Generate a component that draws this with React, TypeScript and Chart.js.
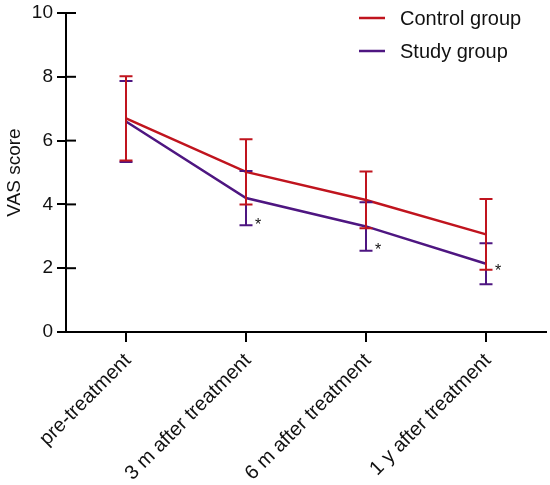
import React, { useEffect, useRef } from "react";
import { Chart, registerables } from "chart.js";

Chart.register(...registerables);

const categories = ["pre-treatment", "3 m after treatment", "6 m after treatment", "1 y after treatment"];
const controlMean = [6.7, 5.02, 4.14, 3.06];
const controlSD = [1.32, 1.02, 0.89, 1.11];
const studyMean = [6.6, 4.2, 3.31, 2.14];
const studySD = [1.27, 0.85, 0.76, 0.64];
const sigMarkY: (number | null)[] = [null, 3.49, 2.71, 2.04];
const seriesNames = ["Control group", "Study group"];

const RED = "#C0141E";
const PURPLE = "#4E1681";
const FONT = "'Liberation Sans', Arial, Helvetica, sans-serif";

const errorBarPlugin = {
  id: "errorBars",
  afterDatasetsDraw(chart: any) {
    const { ctx, scales, chartArea } = chart;
    const xs = scales.x;
    const ys = scales.y;
    ctx.save();
    // inner half of the y-axis ticks (ticks cross the axis)
    ctx.strokeStyle = "#000";
    ctx.lineWidth = 2;
    ys.ticks.forEach((t: any) => {
      if (t.value === 0) return;
      const y = ys.getPixelForValue(t.value);
      ctx.beginPath();
      ctx.moveTo(chartArea.left, y);
      ctx.lineTo(chartArea.left + 10, y);
      ctx.stroke();
    });
    const sets = [
      { mean: studyMean, sd: studySD, color: PURPLE },
      { mean: controlMean, sd: controlSD, color: RED },
    ];
    ctx.lineCap = "butt";
    for (const s of sets) {
      ctx.strokeStyle = s.color;
      ctx.lineWidth = 2;
      s.mean.forEach((m, i) => {
        const x = xs.getPixelForValue(i);
        const yTop = ys.getPixelForValue(m + s.sd[i]);
        const yBot = ys.getPixelForValue(m - s.sd[i]);
        ctx.beginPath();
        ctx.moveTo(x, yTop);
        ctx.lineTo(x, yBot);
        ctx.moveTo(x - 6.5, yTop);
        ctx.lineTo(x + 6.5, yTop);
        ctx.moveTo(x - 6.5, yBot);
        ctx.lineTo(x + 6.5, yBot);
        ctx.stroke();
      });
    }
    // significance asterisks
    ctx.fillStyle = "#111";
    ctx.font = `16px ${FONT}`;
    ctx.textAlign = "center";
    ctx.textBaseline = "alphabetic";
    sigMarkY.forEach((v, i) => {
      if (v === null) return;
      const x = xs.getPixelForValue(i) + 12;
      const y = ys.getPixelForValue(v) + 9.5;
      ctx.fillText("*", x, y);
    });
    // legend
    const colors = [RED, PURPLE];
    const lx = chartArea.right - 187;
    const ly0 = chartArea.top + 5;
    seriesNames.forEach((name, i) => {
      const y = ly0 + i * 33;
      ctx.strokeStyle = colors[i];
      ctx.lineWidth = 2.5;
      ctx.beginPath();
      ctx.moveTo(lx, y);
      ctx.lineTo(lx + 26, y);
      ctx.stroke();
      ctx.fillStyle = "#111";
      ctx.font = `20px ${FONT}`;
      ctx.textAlign = "left";
      ctx.textBaseline = "middle";
      ctx.fillText(name, lx + 41, y + 1);
    });
    ctx.restore();
  },
};

export default function App() {
  const canvasRef = useRef<HTMLCanvasElement | null>(null);

  useEffect(() => {
    if (!canvasRef.current) return;
    Chart.defaults.font.family = FONT;
    const chart = new Chart(canvasRef.current, {
      type: "line",
      data: {
        labels: categories,
        datasets: [
          {
            label: seriesNames[0],
            data: controlMean,
            borderColor: RED,
            backgroundColor: RED,
            borderWidth: 2.5,
            pointRadius: 0,
            tension: 0,
          },
          {
            label: seriesNames[1],
            data: studyMean,
            borderColor: PURPLE,
            backgroundColor: PURPLE,
            borderWidth: 2.5,
            pointRadius: 0,
            tension: 0,
          },
        ],
      },
      options: {
        animation: false,
        responsive: true,
        maintainAspectRatio: false,
        layout: { padding: { top: 13, right: 4, left: 0, bottom: 0 } },
        plugins: { legend: { display: false }, tooltip: { enabled: false } },
        scales: {
          x: {
            type: "category",
            offset: true,
            grid: {
              display: true,
              drawOnChartArea: false,
              drawTicks: true,
              tickLength: 10,
              color: "#000",
              lineWidth: 2,
            },
            border: { display: true, color: "#000", width: 2 },
            ticks: {
              color: "#111",
              font: { size: 20, family: FONT },
              minRotation: 45,
              maxRotation: 45,
              autoSkip: false,
              padding: 7,
              labelOffset: 2,
            },
            afterFit: (s: any) => {
              s.height = 153;
              s.paddingLeft = 0;
              s.paddingRight = 0;
            },
          },
          y: {
            min: 0,
            max: 10,
            grid: {
              display: true,
              drawOnChartArea: false,
              drawTicks: true,
              tickLength: 9,
              color: "#000",
              lineWidth: 2,
            },
            border: { display: true, color: "#000", width: 2 },
            ticks: {
              stepSize: 2,
              color: "#111",
              font: { size: 19, family: FONT },
              padding: 4,
            },
            title: {
              display: true,
              text: "VAS score",
              color: "#111",
              font: { size: 19, family: FONT },
              padding: { top: 3, bottom: 0 },
            },
            afterFit: (s: any) => {
              s.width = 66;
              s.paddingTop = 0;
              s.paddingBottom = 0;
            },
          },
        },
      },
      plugins: [errorBarPlugin],
    });
    return () => chart.destroy();
  }, []);

  return (
    <div style={{ position: "absolute", left: 0, top: 0, width: 550, height: 485, background: "#fff" }}>
      <canvas ref={canvasRef} />
    </div>
  );
}
